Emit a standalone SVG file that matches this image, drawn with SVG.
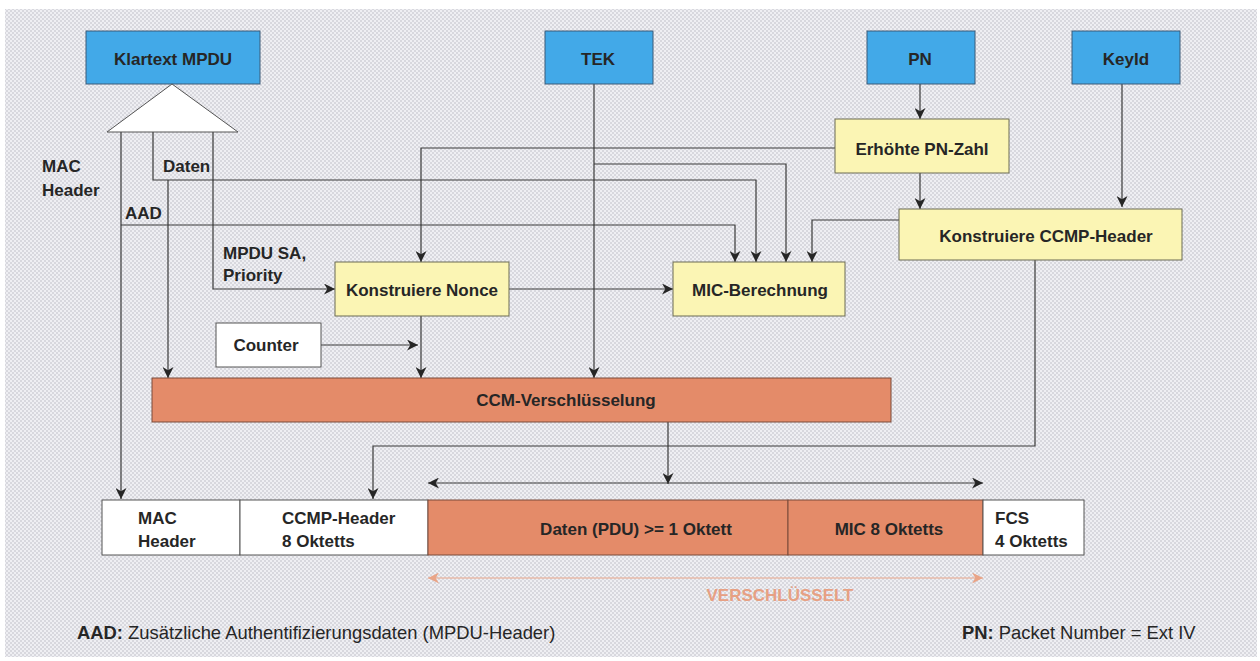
<svg xmlns="http://www.w3.org/2000/svg" width="1260" height="661" viewBox="0 0 1260 661">
<style>
text{font-family:"Liberation Sans",Arial,sans-serif;font-size:17px;font-weight:bold;fill:#262626}
.c{text-anchor:middle}
.n{font-weight:normal}
.ft{font-size:18.4px}
.blue{fill:#42a9e8;stroke:#3a5a78;stroke-width:1}
.yel{fill:#fbf5b4;stroke:#6b6b55;stroke-width:1}
.sal{fill:#e48b69;stroke:#7a4a3a;stroke-width:1}
.wht{fill:#ffffff;stroke:#555;stroke-width:1}
.ln{fill:none;stroke:#3a3a3a;stroke-width:1.2}
.enc{fill:none;stroke:#eaa68a;stroke-width:1.2}
</style>
<defs>
<pattern id="dots" width="4" height="4" patternUnits="userSpaceOnUse">
<rect width="4" height="4" fill="#efeff3"/>
<rect x="0" y="0" width="2" height="2" fill="#d8d8de"/>
<rect x="2" y="2" width="2" height="2" fill="#d8d8de"/>
</pattern>
<marker id="ah" viewBox="0 0 10 10" refX="10" refY="5" markerWidth="11" markerHeight="11" markerUnits="userSpaceOnUse" orient="auto">
<path d="M0,0 L10,5 L0,10 L3,5 z" fill="#262626"/>
</marker>
<marker id="ahs" viewBox="0 0 10 10" refX="10" refY="5" markerWidth="11" markerHeight="11" markerUnits="userSpaceOnUse" orient="auto-start-reverse">
<path d="M0,0 L10,5 L0,10 L3,5 z" fill="#262626"/>
</marker>
<marker id="ahe" viewBox="0 0 10 10" refX="10" refY="5" markerWidth="11" markerHeight="11" markerUnits="userSpaceOnUse" orient="auto-start-reverse">
<path d="M0,0 L10,5 L0,10 L3,5 z" fill="#e9a487"/>
</marker>
</defs>
<rect width="1260" height="661" fill="#ffffff"/>
<rect x="5" y="9" width="1252" height="648" fill="url(#dots)"/>

<g id="connectors">
<path class="ln" d="M121,132 V499" marker-end="url(#ah)"/>
<path class="ln" d="M121,225 H735 V262" marker-end="url(#ah)"/>
<path class="ln" d="M153,132 V180 H756 V262" marker-end="url(#ah)"/>
<path class="ln" d="M168,180 V378" marker-end="url(#ah)"/>
<path class="ln" d="M213,132 V289 H335" marker-end="url(#ah)"/>
<path class="ln" d="M835,148 H421 V262" marker-end="url(#ah)"/>
<path class="ln" d="M594,84 V378" marker-end="url(#ah)"/>
<path class="ln" d="M594,164 H786 V262" marker-end="url(#ah)"/>
<path class="ln" d="M920,84 V119" marker-end="url(#ah)"/>
<path class="ln" d="M920,173 V209" marker-end="url(#ah)"/>
<path class="ln" d="M1122,84 V207" marker-end="url(#ah)"/>
<path class="ln" d="M899,220 H812 V262" marker-end="url(#ah)"/>
<path class="ln" d="M509,289 H673" marker-end="url(#ah)"/>
<path class="ln" d="M421,316 V378" marker-end="url(#ah)"/>
<path class="ln" d="M321,345 H418" marker-end="url(#ah)"/>
<path class="ln" d="M1035,260 V446 H373 V499" marker-end="url(#ah)"/>
<path class="ln" d="M668,422 V484" marker-end="url(#ah)"/>
<path class="ln" d="M428,483 H983" marker-start="url(#ahs)" marker-end="url(#ahs)"/>
<path class="enc" d="M428,578 H983" marker-start="url(#ahe)" marker-end="url(#ahe)"/>
</g>

<g id="klartext">
<rect class="blue" x="86" y="31" width="174" height="53"/>
<text class="c" x="173" y="65">Klartext MPDU</text>
<polygon points="172,84 107,132 238,132" fill="#ffffff" stroke="#555" stroke-width="1"/>
</g>
<g id="tek"><rect class="blue" x="545" y="31" width="108" height="53"/><text class="c" x="598" y="65">TEK</text></g>
<g id="pn"><rect class="blue" x="867" y="31" width="108" height="53"/><text class="c" x="920" y="65">PN</text></g>
<g id="keyid"><rect class="blue" x="1072" y="31" width="108" height="53"/><text class="c" x="1126" y="65">KeyId</text></g>

<g id="erhoehte"><rect class="yel" x="835" y="119" width="174" height="54"/><text class="c" x="922" y="155">Erhöhte PN-Zahl</text></g>
<g id="ccmpheader"><rect class="yel" x="899" y="209" width="283" height="51"/><text class="c" x="1046" y="242">Konstruiere CCMP-Header</text></g>
<g id="nonce"><rect class="yel" x="335" y="262" width="174" height="54"/><text class="c" x="422" y="296">Konstruiere Nonce</text></g>
<g id="mic"><rect class="yel" x="673" y="262" width="172" height="54"/><text class="c" x="760" y="296">MIC-Berechnung</text></g>
<g id="counter"><rect class="wht" x="216" y="323" width="105" height="44"/><text class="c" x="266" y="351">Counter</text></g>
<g id="ccm"><rect class="sal" x="152" y="378" width="739" height="44"/><text class="c" x="566" y="406">CCM-Verschlüsselung</text></g>

<g id="labels">
<text x="42" y="172">MAC</text>
<text x="42" y="196">Header</text>
<text x="163" y="172">Daten</text>
<text x="125" y="219">AAD</text>
<text x="223" y="259">MPDU SA,</text>
<text x="223" y="281">Priority</text>
</g>

<g id="frame">
<rect class="wht" x="102" y="500" width="138" height="55"/>
<text x="138" y="524">MAC</text><text x="138" y="547">Header</text>
<rect class="wht" x="240" y="500" width="188" height="55"/>
<text x="282" y="524">CCMP-Header</text><text x="282" y="547">8 Oktetts</text>
<rect class="sal" x="428" y="500" width="360" height="55"/>
<text class="c" x="636" y="535">Daten (PDU) &gt;= 1 Oktett</text>
<rect class="sal" x="788" y="500" width="195" height="55"/>
<text class="c" x="889" y="535">MIC 8 Oktetts</text>
<rect class="wht" x="983" y="500" width="101" height="55"/>
<text x="995" y="524">FCS</text><text x="995" y="547">4 Oktetts</text>
</g>

<g id="encrypted"><text class="c" x="780" y="601" style="fill:#e7a083">VERSCHLÜSSELT</text></g>

<g id="footer">
<text class="ft" x="77" y="639">AAD:<tspan class="n"> Zusätzliche Authentifizierungsdaten (MPDU-Header)</tspan></text>
<text class="ft" x="962" y="639">PN:<tspan class="n"> Packet Number = Ext IV</tspan></text>
</g>
</svg>
